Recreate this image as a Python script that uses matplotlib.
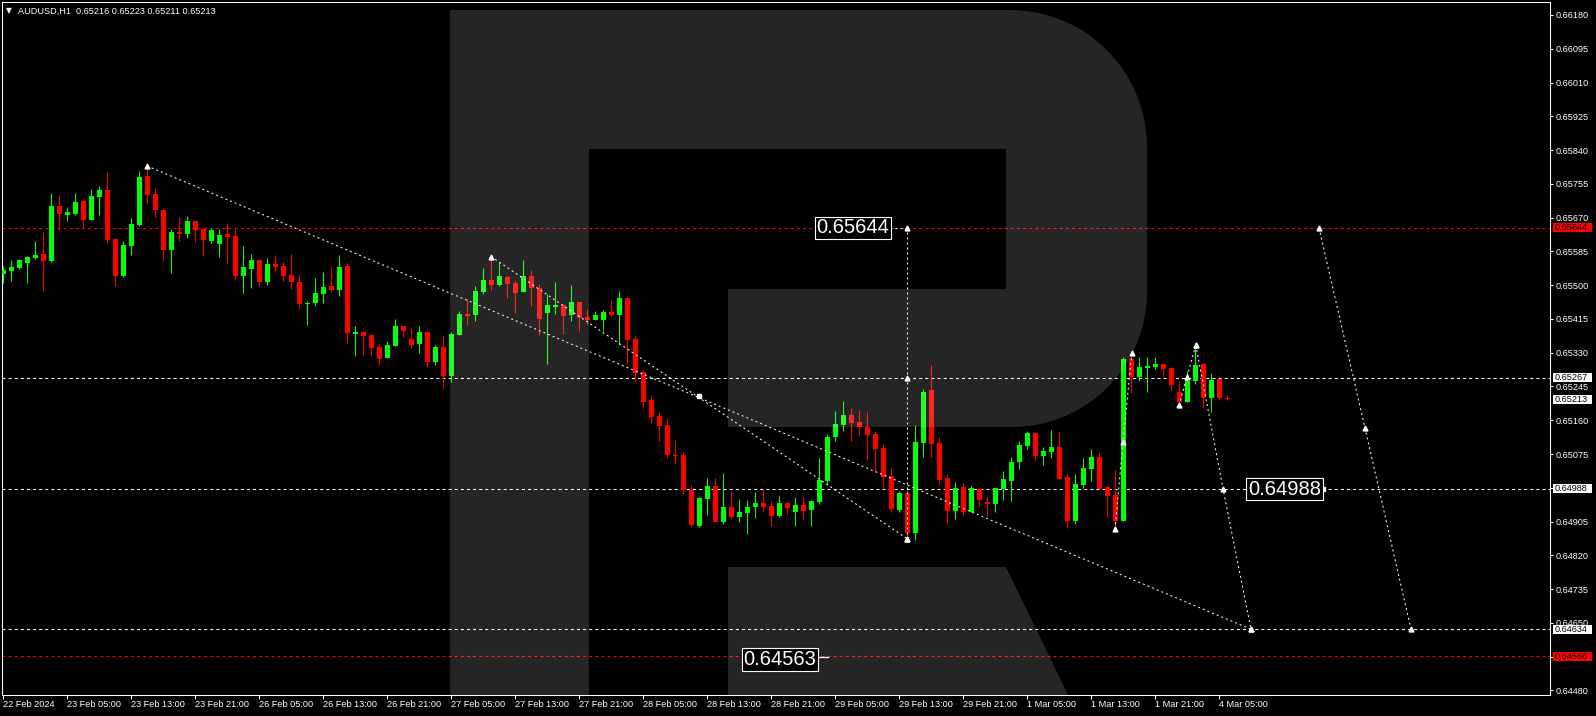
import numpy as np
import matplotlib
matplotlib.use("Agg")
import matplotlib.pyplot as plt
from matplotlib import font_manager
from matplotlib.path import Path
from matplotlib.patches import PathPatch, Rectangle
from matplotlib.transforms import Affine2D, blended_transform_factory

plt.rcParams["font.family"] = ["Liberation Sans", "DejaVu Sans"]
plt.rcParams["lines.scale_dashes"] = False

# AUDUSD H1, bars from 22 Feb 21:00 to 4 Mar 06:00
opens = [
    0.65528, 0.65536, 0.65543, 0.65556, 0.65568, 0.65579, 0.65561, 0.65699, 0.65677, 0.65679,
    0.65712, 0.65664, 0.65722, 0.65740, 0.65616, 0.65523, 0.65599, 0.65651, 0.65775, 0.65730,
    0.65689, 0.65589, 0.65634, 0.65629, 0.65662, 0.65641, 0.65611, 0.65604, 0.65629, 0.65624,
    0.65523, 0.65541, 0.65563, 0.65508, 0.65553, 0.65548, 0.65526, 0.65508, 0.65453, 0.65455,
    0.65478, 0.65498, 0.65488, 0.65548, 0.65377, 0.65382, 0.65375, 0.65344, 0.65317, 0.65347,
    0.65397, 0.65364, 0.65352, 0.65382, 0.65307, 0.65344, 0.65271, 0.65375, 0.65427, 0.65425,
    0.65483, 0.65513, 0.65500, 0.65521, 0.65505, 0.65483, 0.65523, 0.65493, 0.65430, 0.65445,
    0.65450, 0.65425, 0.65458, 0.65420, 0.65412, 0.65412, 0.65432, 0.65425, 0.65468, 0.65364,
    0.65281, 0.65211, 0.65171, 0.65148, 0.65073, 0.65073, 0.64984, 0.64894, 0.64962, 0.64994,
    0.64904, 0.64942, 0.64916, 0.64927, 0.64942, 0.64952, 0.64944, 0.64919, 0.64952, 0.64929,
    0.64947, 0.64934, 0.64954, 0.65007, 0.65118, 0.65148, 0.65173, 0.65156, 0.65143, 0.65125,
    0.65090, 0.65020, 0.64934, 0.64977, 0.64876, 0.65103, 0.65236, 0.65103, 0.65015, 0.64932,
    0.64992, 0.64929, 0.64987, 0.64954, 0.64949, 0.64987, 0.65007, 0.65055, 0.65095, 0.65128,
    0.65070, 0.65080, 0.65093, 0.65017, 0.64906, 0.64997, 0.65037, 0.65067, 0.64992, 0.64972,
    0.64906, 0.65314, 0.65269, 0.65292, 0.65294, 0.65302, 0.65292, 0.65231, 0.65206, 0.65259,
    0.65302, 0.65216, 0.65264, 0.65216,
]
highs = [
    0.65548, 0.65563, 0.65567, 0.65573, 0.65611, 0.65634, 0.65733, 0.65727, 0.65697, 0.65732,
    0.65714, 0.65742, 0.65750, 0.65785, 0.65616, 0.65611, 0.65669, 0.65787, 0.65800, 0.65745,
    0.65689, 0.65641, 0.65672, 0.65674, 0.65662, 0.65644, 0.65644, 0.65641, 0.65657, 0.65641,
    0.65599, 0.65579, 0.65563, 0.65568, 0.65576, 0.65558, 0.65579, 0.65528, 0.65460, 0.65518,
    0.65533, 0.65548, 0.65576, 0.65556, 0.65397, 0.65387, 0.65377, 0.65354, 0.65360, 0.65415,
    0.65397, 0.65392, 0.65397, 0.65385, 0.65349, 0.65372, 0.65382, 0.65435, 0.65465, 0.65498,
    0.65543, 0.65572, 0.65558, 0.65523, 0.65513, 0.65563, 0.65538, 0.65503, 0.65478, 0.65508,
    0.65453, 0.65500, 0.65458, 0.65440, 0.65435, 0.65437, 0.65463, 0.65485, 0.65468, 0.65375,
    0.65286, 0.65221, 0.65183, 0.65166, 0.65110, 0.65080, 0.64997, 0.64967, 0.65015, 0.65015,
    0.65027, 0.64982, 0.64962, 0.64959, 0.64979, 0.64987, 0.64957, 0.64969, 0.64952, 0.64967,
    0.64967, 0.64957, 0.65065, 0.65125, 0.65183, 0.65208, 0.65191, 0.65186, 0.65181, 0.65133,
    0.65100, 0.65040, 0.64982, 0.64984, 0.65148, 0.65239, 0.65299, 0.65118, 0.65025, 0.65005,
    0.65002, 0.64994, 0.64987, 0.64969, 0.64989, 0.65032, 0.65067, 0.65108, 0.65133, 0.65128,
    0.65093, 0.65135, 0.65130, 0.65025, 0.65025, 0.65065, 0.65088, 0.65080, 0.64992, 0.65035,
    0.65319, 0.65332, 0.65319, 0.65319, 0.65319, 0.65302, 0.65292, 0.65259, 0.65284, 0.65349,
    0.65304, 0.65279, 0.65264, 0.65223,
]
lows = [
    0.65505, 0.65511, 0.65541, 0.65506, 0.65566, 0.65486, 0.65558, 0.65639, 0.65662, 0.65677,
    0.65644, 0.65664, 0.65677, 0.65604, 0.65498, 0.65521, 0.65576, 0.65649, 0.65707, 0.65672,
    0.65561, 0.65531, 0.65611, 0.65619, 0.65609, 0.65573, 0.65606, 0.65571, 0.65556, 0.65516,
    0.65480, 0.65493, 0.65498, 0.65500, 0.65536, 0.65511, 0.65490, 0.65440, 0.65400, 0.65448,
    0.65455, 0.65483, 0.65473, 0.65354, 0.65322, 0.65324, 0.65322, 0.65299, 0.65317, 0.65347,
    0.65370, 0.65342, 0.65329, 0.65294, 0.65299, 0.65239, 0.65256, 0.65375, 0.65400, 0.65410,
    0.65478, 0.65488, 0.65498, 0.65468, 0.65430, 0.65483, 0.65448, 0.65375, 0.65302, 0.65427,
    0.65377, 0.65410, 0.65385, 0.65402, 0.65412, 0.65385, 0.65422, 0.65349, 0.65302, 0.65259,
    0.65191, 0.65151, 0.65108, 0.65065, 0.65050, 0.64974, 0.64894, 0.64891, 0.64922, 0.64904,
    0.64899, 0.64911, 0.64904, 0.64874, 0.64914, 0.64929, 0.64894, 0.64916, 0.64924, 0.64894,
    0.64909, 0.64894, 0.64949, 0.65000, 0.65108, 0.65133, 0.65108, 0.65123, 0.65060, 0.65032,
    0.64987, 0.64929, 0.64929, 0.64854, 0.64859, 0.65067, 0.65067, 0.64997, 0.64899, 0.64911,
    0.64919, 0.64929, 0.64944, 0.64919, 0.64929, 0.64959, 0.64957, 0.65037, 0.65088, 0.65057,
    0.65047, 0.65065, 0.65012, 0.64889, 0.64899, 0.64989, 0.65007, 0.64987, 0.64916, 0.64886,
    0.64906, 0.65229, 0.65259, 0.65231, 0.65289, 0.65269, 0.65234, 0.65198, 0.65206, 0.65251,
    0.65191, 0.65181, 0.65213, 0.65211,
]
closes = [
    0.65538, 0.65546, 0.65563, 0.65571, 0.65576, 0.65561, 0.65699, 0.65680, 0.65684, 0.65709,
    0.65664, 0.65724, 0.65740, 0.65614, 0.65523, 0.65601, 0.65654, 0.65772, 0.65727, 0.65689,
    0.65589, 0.65634, 0.65630, 0.65662, 0.65639, 0.65614, 0.65639, 0.65626, 0.65621, 0.65523,
    0.65546, 0.65563, 0.65508, 0.65553, 0.65546, 0.65523, 0.65508, 0.65453, 0.65455, 0.65480,
    0.65495, 0.65488, 0.65546, 0.65380, 0.65382, 0.65372, 0.65342, 0.65314, 0.65349, 0.65397,
    0.65385, 0.65349, 0.65382, 0.65307, 0.65344, 0.65271, 0.65377, 0.65427, 0.65422, 0.65485,
    0.65513, 0.65500, 0.65523, 0.65503, 0.65480, 0.65523, 0.65493, 0.65415, 0.65450, 0.65450,
    0.65422, 0.65458, 0.65417, 0.65412, 0.65425, 0.65432, 0.65425, 0.65468, 0.65362, 0.65279,
    0.65206, 0.65168, 0.65146, 0.65073, 0.65070, 0.64984, 0.64896, 0.64964, 0.64994, 0.64904,
    0.64942, 0.64916, 0.64929, 0.64942, 0.64952, 0.64942, 0.64919, 0.64952, 0.64939, 0.64947,
    0.64932, 0.64957, 0.65010, 0.65118, 0.65151, 0.65173, 0.65153, 0.65143, 0.65123, 0.65088,
    0.65017, 0.64937, 0.64977, 0.64876, 0.65105, 0.65231, 0.65100, 0.65010, 0.64932, 0.64989,
    0.64929, 0.64989, 0.64959, 0.64949, 0.64989, 0.65012, 0.65055, 0.65098, 0.65128, 0.65070,
    0.65083, 0.65093, 0.65012, 0.64906, 0.65000, 0.65040, 0.65067, 0.64987, 0.64969, 0.64906,
    0.65314, 0.65269, 0.65294, 0.65297, 0.65302, 0.65289, 0.65249, 0.65206, 0.65259, 0.65299,
    0.65216, 0.65261, 0.65216, 0.65213,
]

time_ticks = [0, 8, 16, 24, 32, 40, 48, 56, 64, 72, 80, 88, 96, 104, 112, 120, 128, 136, 144, 152]
time_labels = [
    "22 Feb 2024", "23 Feb 05:00", "23 Feb 13:00", "23 Feb 21:00", "26 Feb 05:00",
    "26 Feb 13:00", "26 Feb 21:00", "27 Feb 05:00", "27 Feb 13:00", "27 Feb 21:00",
    "28 Feb 05:00", "28 Feb 13:00", "28 Feb 21:00", "29 Feb 05:00", "29 Feb 13:00",
    "29 Feb 21:00", "1 Mar 05:00", "1 Mar 13:00", "1 Mar 21:00", "4 Mar 05:00",
]
price_ticks = [0.66180, 0.66095, 0.66010, 0.65925, 0.65840, 0.65755, 0.65670, 0.65585,
               0.65500, 0.65415, 0.65330, 0.65245, 0.65160, 0.65075, 0.64990, 0.64905,
               0.64820, 0.64735, 0.64650, 0.64565, 0.64480]

levels_red = [0.65644, 0.64566]
levels_white = [0.65267, 0.64988, 0.64634]
last_price = 0.65213

# forecast / trend paths (bar index, price)
trend_x, trend_y = [18, 156], [0.65800, 0.64634]
wave_x, wave_y = [61, 113], [0.65572, 0.64862]
target_x, target_y = [113, 113, 113], [0.64862, 0.65267, 0.65644]
rise1_x, rise1_y = [139, 140, 141.1], [0.64886, 0.65105, 0.65329]
rise2_x, rise2_y = [147, 148, 149.1], [0.65198, 0.65269, 0.65349]
fall1_x, fall1_y = [149.1, 152.5, 156], [0.65349, 0.64988, 0.64634]
fall2_x, fall2_y = [164.5, 170.25, 176], [0.65644, 0.65140, 0.64634]
cross_x, cross_y = [87], [0.65220]

chart_labels = ["0.65644", "0.64988", "0.64563"]
chart_label_x = [106.25, 160.2, 97.1]
chart_label_y = [0.65644, 0.64986, 0.64558]

W, H = 1596, 716
fig = plt.figure(figsize=(W / 100, H / 100), dpi=100, facecolor="black")
ax = fig.add_axes([2 / W, 21 / H, 1548 / W, 693 / H], facecolor="black")
pix = Affine2D().scale(1 / W, -1 / H).translate(0, 1) + fig.transFigure

o = np.array(opens)
h = np.array(highs)
l = np.array(lows)
c = np.array(closes)
x = np.arange(len(o))
col = np.where(c >= o, "#00ff00", "#ff0000")

ax.vlines(x, l, h, colors=col, lw=0.75, zorder=2)
ax.bar(x, np.maximum(np.abs(c - o), 0.00003), bottom=np.minimum(o, c), width=0.625,
       color=col, lw=0, zorder=3)

hdash = (0, (2.2, 2.2))
for lv in levels_red:
    ax.axhline(lv, color="#ff0000", lw=0.75, ls=hdash, zorder=1)
for lv in levels_white:
    ax.axhline(lv, color="white", lw=0.75, ls=hdash, zorder=1)

dot = (0, (1.4, 2.2))
for px_, py_ in [(trend_x, trend_y), (wave_x, wave_y), (target_x, target_y),
                 (rise1_x, rise1_y), (rise2_x, rise2_y), (fall1_x, fall1_y),
                 (fall2_x, fall2_y)]:
    ax.plot(px_, py_, color="white", lw=0.75, ls=dot, marker="^", ms=3.5,
            mec="white", mfc="white", zorder=4)
ax.plot(cross_x, cross_y, ls="none", marker="s", ms=3, color="white", zorder=4)

# short connectors from the on-chart labels
ax.plot([110.9, 113], [0.65644, 0.65644], color="white", lw=0.75, ls=dot, zorder=4)
ax.plot([101.75, 103.1], [0.64563, 0.64563], color="white", lw=0.9, zorder=4)
ax.plot([165], [0.64988], ls="none", marker="s", ms=2.5, color="white", zorder=4)

# watermark "R"
k = 0.5523
r1, r2 = 137, 135
verts = [(450, 10), (1010, 10),
         (1010 + r1 * k, 10), (1147, 147 - r1 * k), (1147, 147),
         (1147, 292),
         (1147, 292 + r2 * k), (1012 + r2 * k, 427), (1012, 427),
         (728, 427), (728, 289), (1006, 289), (1006, 149), (589, 149),
         (589, 695), (450, 695), (450, 10)]
codes = [Path.MOVETO, Path.LINETO, Path.CURVE4, Path.CURVE4, Path.CURVE4, Path.LINETO,
         Path.CURVE4, Path.CURVE4, Path.CURVE4, Path.LINETO, Path.LINETO, Path.LINETO,
         Path.LINETO, Path.LINETO, Path.LINETO, Path.LINETO, Path.CLOSEPOLY]
ax.add_patch(PathPatch(Path(verts, codes), transform=pix, fc="white", ec="none",
                       alpha=0.15, zorder=5))
leg = [(728, 567), (1006, 567), (1068, 695), (728, 695), (728, 567)]
ax.add_patch(PathPatch(Path(leg, [Path.MOVETO] + [Path.LINETO] * 3 + [Path.CLOSEPOLY]),
                       transform=pix, fc="white", ec="none", alpha=0.15, zorder=5))

# on-chart price labels
names = {f.name for f in font_manager.fontManager.ttflist}
if "Liberation Sans Narrow" in names:
    big_font, big_size = "Liberation Sans Narrow", 18
else:
    big_font, big_size = "Liberation Sans", 14.5
for txt, tx, ty in zip(chart_labels, chart_label_x, chart_label_y):
    ax.text(tx, ty, txt, color="white", fontsize=big_size, family=big_font,
            ha="center", va="center", zorder=7,
            bbox=dict(boxstyle="square,pad=0.08", fc="black", ec="white", lw=0.8))

# axes styling
for sp in ax.spines.values():
    sp.set_color("white")
    sp.set_linewidth(0.75)
ax.yaxis.tick_right()
ax.set_yticks(price_ticks)
ax.set_yticklabels([f"{p:.5f}" for p in price_ticks])
ax.tick_params(axis="y", colors="white", length=2.2, width=0.75, pad=1.8, labelsize=6.6)
ax.set_xticks(time_ticks)
ax.set_xticklabels(time_labels)
for lbl in ax.get_xticklabels():
    lbl.set_ha("left")
ax.tick_params(axis="x", colors="white", length=2.9, width=0.75, pad=0.8, labelsize=6.6)

# boxed prices on the right scale
blend = blended_transform_factory(ax.transAxes, ax.transData)
box_h = 0.000227
right_boxes = [(0.65644, "#ff0000"), (0.65267, "white"), (last_price, "white"),
               (0.64988, "white"), (0.64634, "white"), (0.64566, "#ff0000")]
for bp, bc in right_boxes:
    ax.add_patch(Rectangle((1.0017, bp - box_h / 2), 0.0252, box_h, transform=blend,
                           fc=bc, ec="none", clip_on=False, zorder=8))
    ax.text(1.0032, bp, f"{bp:.5f}", transform=blend, color="black", fontsize=6.6,
            ha="left", va="center", clip_on=False, zorder=9)

ax.set_xlim(-0.125, 193.375)
ax.set_ylim(0.644685, 0.662127)

# header
fig.text(6, 11, "\u25bc", transform=pix, color="white", fontsize=5.5, va="center",
         family=["DejaVu Sans"])
fig.text(17.7, 11, "AUDUSD,H1  " + " ".join(f"{v:.5f}" for v in
         (opens[-1], highs[-1], lows[-1], closes[-1])),
         transform=pix, color="white", fontsize=6.6, va="center")

fig.savefig("out.png", dpi=100, facecolor="black")
